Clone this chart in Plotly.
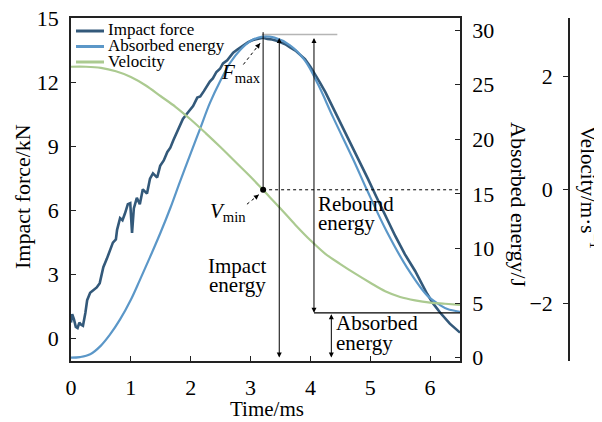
import plotly.graph_objects as go

# ---------------- data ----------------
force_t = [0.00, 0.02, 0.05, 0.08, 0.11, 0.14, 0.17, 0.20, 0.24, 0.27, 0.32, 0.38, 0.43, 0.48,
           0.54, 0.60, 0.65, 0.70, 0.75, 0.77, 0.82, 0.86, 0.90, 0.95, 0.99, 1.02, 1.05, 1.10,
           1.15, 1.20, 1.27, 1.32, 1.37, 1.44, 1.49, 1.55, 1.61, 1.66, 1.71, 1.77, 1.82, 1.87,
           1.94, 1.99, 2.04, 2.11, 2.16, 2.22, 2.27, 2.32, 2.37, 2.43, 2.49, 2.54, 2.61, 2.66,
           2.71, 2.78, 2.88, 2.96, 3.04, 3.12, 3.21, 3.28, 3.36, 3.45, 3.58, 3.66, 3.75, 3.83,
           3.91, 4.00, 4.08, 4.16, 4.25, 4.33, 4.42, 4.50, 4.66, 4.83, 4.96, 5.10, 5.25, 5.42,
           5.58, 5.75, 5.95, 6.05, 6.17, 6.33, 6.50]
force_kN = [0.75, 1.15, 0.90, 0.55, 0.50, 0.75, 0.65, 0.60, 1.20, 1.80, 2.15, 2.30, 2.40, 2.60,
            3.35, 3.75, 4.15, 4.50, 4.65, 5.10, 5.65, 5.55, 5.85, 6.30, 6.35, 4.95, 6.10, 6.60,
            6.30, 7.00, 6.80, 7.50, 7.75, 7.55, 8.10, 8.35, 8.75, 8.95, 9.30, 9.65, 10.00, 10.30,
            10.55, 10.75, 10.90, 11.30, 11.35, 11.60, 11.85, 12.05, 12.20, 12.50, 12.65, 12.90, 13.05, 13.25,
            13.40, 13.55, 13.75, 13.90, 14.00, 14.05, 14.10, 14.05, 14.02, 13.95, 13.80, 13.65, 13.50, 13.30,
            13.10, 12.75, 12.40, 12.00, 11.55, 11.10, 10.60, 10.15, 9.20, 8.30, 7.50, 6.66, 5.75, 4.80,
            3.95, 3.17, 2.10, 1.65, 1.21, 0.70, 0.28]

energy_t = [0.00, 0.15, 0.32, 0.50, 0.65, 0.82, 1.00, 1.15, 1.32, 1.50, 1.66, 1.82, 2.00, 2.16,
            2.32, 2.50, 2.66, 2.83, 3.00, 3.20, 3.40, 3.66, 3.91, 4.13, 4.38, 4.72, 4.95, 5.28,
            5.62, 5.95, 6.17, 6.29, 6.50]
energy_J = [0.0, 0.05, 0.3, 1.1, 2.1, 3.5, 5.3, 7.1, 9.2, 11.5, 13.7, 16.1, 18.7, 21.0,
            23.3, 25.4, 27.0, 28.2, 29.0, 29.4, 29.3, 28.6, 27.2, 25.0, 22.0, 18.1, 15.3, 11.5,
            8.2, 5.7, 4.8, 4.45, 4.2]

velocity_t = [0.00, 0.25, 0.50, 0.75, 1.00, 1.25, 1.50, 1.75, 2.00, 2.25, 2.50, 2.75, 3.00,
              3.25, 3.50, 3.75, 4.00, 4.25, 4.50, 4.75, 5.00, 5.25, 5.50, 5.75, 6.00, 6.25, 6.50]
velocity_ms = [2.17, 2.17, 2.15, 2.09, 1.99, 1.84, 1.65, 1.46, 1.24, 1.00, 0.75, 0.49, 0.23,
               -0.05, -0.33, -0.62, -0.89, -1.13, -1.31, -1.48, -1.64, -1.79, -1.89, -1.95, -1.99, -2.01, -2.03]

series_names = ["Impact force", "Absorbed energy", "Velocity"]
series_colors = ["#33597a", "#5b97c8", "#abca90"]

x_ticks = [0, 1, 2, 3, 4, 5, 6]
force_ticks = [0, 3, 6, 9, 12, 15]
energy_ticks = [0, 5, 10, 15, 20, 25, 30]
velocity_ticks = [-2, 0, 2]

# key quantities used by the annotations
t_peak = 3.21
F_max = 14.1
E_peak = 29.4
E_absorbed = 4.1
t_end = 6.5

# ---------------- layout helpers ----------------
OFF = 8  # page body margin
W, H = 594, 414
ML, MR, MT, MB = 63, 33, 10, 61
PW, PH = W - ML - MR, H - MT - MB
XD = (460 - 71) / PW  # x-axis domain end


def px(x):
    return (x - OFF - ML) / PW


def py(y):
    return (H - MB - (y - OFF)) / PH


FONT = "Liberation Serif"

fig = go.Figure()
fig.add_trace(go.Scatter(x=force_t, y=force_kN, mode="lines", name=series_names[0],
                         line=dict(color=series_colors[0], width=2.6), yaxis="y", showlegend=False))
fig.add_trace(go.Scatter(x=energy_t, y=energy_J, mode="lines", name=series_names[1],
                         line=dict(color=series_colors[1], width=2.2, shape="spline"), yaxis="y2",
                         showlegend=False))
fig.add_trace(go.Scatter(x=velocity_t, y=velocity_ms, mode="lines", name=series_names[2],
                         line=dict(color=series_colors[2], width=2.2, shape="spline"), yaxis="y3",
                         showlegend=False))
# V_min point
fig.add_trace(go.Scatter(x=[t_peak], y=[0], mode="markers", yaxis="y3", showlegend=False,
                         marker=dict(color="black", size=6)))

shapes = []
annotations = []

# light gray line at peak
shapes.append(dict(type="line", xref="x", yref="y2", x0=3.19, x1=4.45, y0=E_peak + 0.2, y1=E_peak + 0.2,
                   line=dict(color="#b5b5b5", width=1.5)))
# vertical line from V_min to F_max
shapes.append(dict(type="line", xref="x", yref="y3", x0=t_peak, x1=t_peak, y0=0, y1=2.78,
                   line=dict(color="black", width=1)))
# dashed line at V_min
shapes.append(dict(type="line", xref="x", yref="y3", x0=t_peak, x1=t_end, y0=0, y1=0,
                   line=dict(color="black", width=1, dash="dot")))
# absorbed energy level
shapes.append(dict(type="line", xref="x", yref="y2", x0=4.06, x1=t_end, y0=E_absorbed, y1=E_absorbed,
                   line=dict(color="black", width=1.2)))


def double_arrow(t, e0, e1):
    annotations.append(dict(x=t, y=e0, ax=t, ay=e1, xref="x", yref="y2", axref="x", ayref="y2",
                            text="", showarrow=True, arrowside="end+start", arrowhead=2,
                            arrowsize=1, arrowwidth=1, arrowcolor="black", standoff=0, startstandoff=0))


double_arrow(3.48, 0, E_peak)          # impact energy
double_arrow(4.06, E_absorbed, E_peak)  # rebound energy
double_arrow(4.35, 0, E_absorbed)       # absorbed energy


def dashed_pointer(t0, f0, t1, f1):
    shapes.append(dict(type="line", xref="x", yref="y", x0=t0, y0=f0, x1=t1, y1=f1,
                       line=dict(color="black", width=1, dash="dot")))
    annotations.append(dict(x=t1, y=f1, ax=t1 - (t1 - t0) * 0.25, ay=f1 - (f1 - f0) * 0.25,
                            xref="x", yref="y", axref="x", ayref="y", text="", showarrow=True,
                            arrowhead=2, arrowsize=1, arrowwidth=1, arrowcolor="black", standoff=0))


dashed_pointer(2.88, 12.85, 3.16, 13.85)   # F_max pointer
dashed_pointer(2.94, 6.3, 3.14, 6.75)      # V_min pointer


def label(text, t, f, anchor="left", size=21):
    annotations.append(dict(x=t, y=f, xref="x", yref="y", text=text, showarrow=False,
                            xanchor=anchor, yanchor="middle",
                            font=dict(family=FONT, size=size, color="black")))


label("<i>F</i><sub>max</sub>", 3.20, 12.45, "right")
label("<i>V</i><sub>min</sub>", 2.96, 5.95, "right")
label("Impact", 3.29, 3.4, "right")
label("energy", 3.29, 2.5, "right")
label("Rebound", 4.09, 6.3, "left")
label("energy", 4.09, 5.4, "left")
label("Absorbed", 4.39, 0.75, "left")
label("energy", 4.39, -0.2, "left")

# axis titles
annotations.append(dict(x=px(22), y=py(197), xref="paper", yref="paper", text="Impact force/kN",
                        textangle=-90, showarrow=False, xanchor="center", yanchor="middle",
                        font=dict(family=FONT, size=22, color="black")))
annotations.append(dict(x=px(519), y=py(205), xref="paper", yref="paper", text="Absorbed energy/J",
                        textangle=90, showarrow=False, xanchor="center", yanchor="middle",
                        font=dict(family=FONT, size=22, color="black")))
annotations.append(dict(x=px(590), y=py(187), xref="paper", yref="paper",
                        text="Velocity/m·s<sup>−1</sup>",
                        textangle=90, showarrow=False, xanchor="center", yanchor="middle",
                        font=dict(family=FONT, size=21, color="black")))
annotations.append(dict(x=px(267), y=py(409), xref="paper", yref="paper", text="Time/ms",
                        showarrow=False, xanchor="center", yanchor="middle",
                        font=dict(family=FONT, size=21, color="black")))

# manual legend
legend_rows = [30, 45.5, 61]
for name, color, yy in zip(series_names, series_colors, legend_rows):
    shapes.append(dict(type="line", xref="paper", yref="paper", x0=px(76), x1=px(104),
                       y0=py(yy + 1), y1=py(yy + 1), line=dict(color=color, width=3)))
    annotations.append(dict(x=px(106), y=py(yy), xref="paper", yref="paper", text=name,
                            showarrow=False, xanchor="left", yanchor="middle",
                            font=dict(family=FONT, size=17, color="black")))

axis_common = dict(showgrid=False, zeroline=False, showline=True, linecolor="#222222", linewidth=1.5,
                   ticks="inside", ticklen=5, tickcolor="#222222", ticklabeloverflow="allow",
                   tickfont=dict(family=FONT, size=22, color="black"))

fig.update_layout(
    width=W, height=H,
    margin=dict(l=ML, r=MR, t=MT, b=MB, autoexpand=False),
    paper_bgcolor="white", plot_bgcolor="white",
    font=dict(family=FONT, color="black"),
    showlegend=False,
    xaxis=dict(domain=[0, XD], range=[0, t_end], tickvals=x_ticks, mirror=True, ticklabelstandoff=6,
               **axis_common),
    yaxis=dict(range=[-1.05, 15.03], tickvals=force_ticks, ticklabelstandoff=6, **axis_common),
    yaxis2=dict(range=[-0.31, 31.1], tickvals=energy_ticks, overlaying="y", side="right", anchor="x",
                ticklabelstandoff=6, **axis_common),
    yaxis3=dict(range=[-3.02, 3.03], tickvals=velocity_ticks, overlaying="y", side="left",
                anchor="free", position=1.0, showgrid=False, zeroline=False, showline=True,
                linecolor="#222222", linewidth=1.5, ticks="outside", ticklen=5, tickcolor="#222222",
                ticklabelstandoff=6, ticklabeloverflow="allow",
                tickfont=dict(family=FONT, size=22, color="black")),
    shapes=shapes,
    annotations=annotations,
)

fig.write_html("out.html")
